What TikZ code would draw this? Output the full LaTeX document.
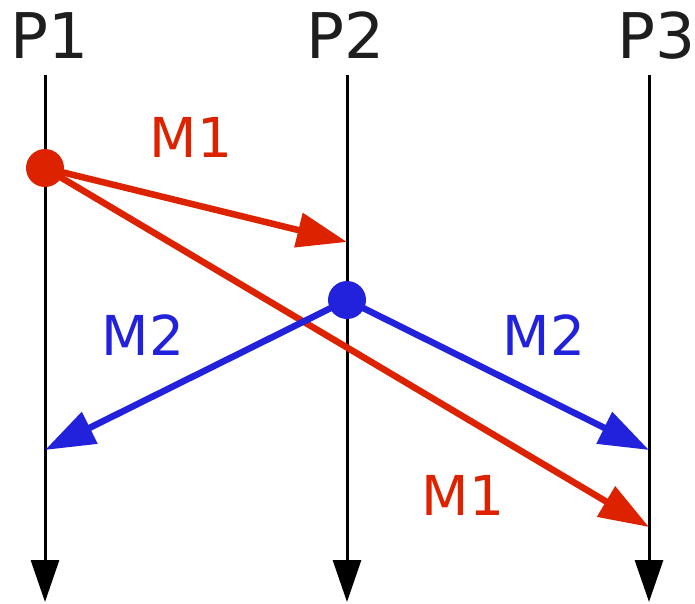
\documentclass[tikz,border=0pt]{standalone}
\usepackage{fontspec}
\setmainfont{DejaVu Sans}
\usepackage{tikz}
\usetikzlibrary{arrows.meta,positioning,calc}
\definecolor{msgred}{RGB}{221,34,0}
\definecolor{msgblue}{RGB}{34,34,221}
\definecolor{labelgray}{RGB}{30,30,30}

\tikzset{
  proc/.style={text=labelgray, font=\fontsize{63}{63}\selectfont, inner sep=0pt},
  msg/.style={font=\fontsize{55}{55}\selectfont, inner sep=0pt},
  timeline/.style={line width=3pt, -{Triangle[length=42pt,width=28pt]}},
  msgline/.style={line width=6.5pt, -{Triangle[length=50pt,width=34pt]}},
  event/.style={circle, inner sep=0pt, minimum size=38pt}
}

\begin{document}
\begin{tikzpicture}[x=1pt,y=-1pt]
    \useasboundingbox (0,0) rectangle (695,603);
    \clip (0,0) rectangle (695,603);
    % process labels
    \node[proc, anchor=base] (p1) at (50,58) {P1};
    \node[proc, anchor=base] (p2) at (346,58) {P2};
    \node[proc, anchor=base] (p3) at (657,58) {P3};
    % time lines
    \coordinate (p1top) at (45,75);
    \coordinate (p2top) at (347,75);
    \coordinate (p3top) at (649,75);
    \coordinate (p1end) at (45,602);
    \coordinate (p2end) at (347,602);
    \coordinate (p3end) at (649,602);
    \draw[timeline] (p1top) -- (p1end);
    \draw[timeline] (p2top) -- (p2end);
    \draw[timeline] (p3top) -- (p3end);
    % receive points
    \coordinate (recv12) at (347,242);
    \coordinate (recv13) at (649,527);
    \coordinate (recv21) at (45,450);
    \coordinate (recv23) at (649,450);
    % M1 sent by P1
    \node[event, fill=msgred] (send1) at (45,168) {};
    \draw[msgline, msgred] (send1.center) -- (recv12);
    \draw[msgline, msgred] (send1.center) -- (recv13);
    % M2 sent by P2
    \node[event, fill=msgblue] (send2) at (347,300) {};
    \draw[msgline, msgblue] (send2.center) -- (recv21);
    \draw[msgline, msgblue] (send2.center) -- (recv23);
    % message labels
    \node[msg, text=msgred] (m1a) at (191,137) {M1};
    \node[msg, text=msgblue] (m2a) at (143,335) {M2};
    \node[msg, text=msgblue] (m2b) at (544,335) {M2};
    \node[msg, text=msgred] (m1b) at (463,495) {M1};
\end{tikzpicture}
\end{document}
